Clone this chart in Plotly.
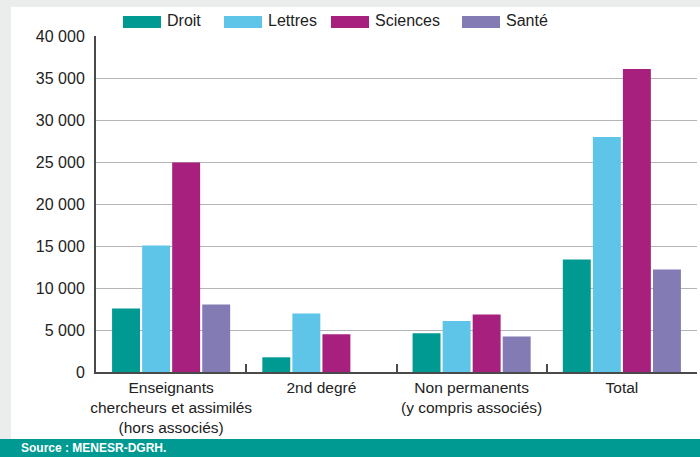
import plotly.graph_objects as go

categories = ["Enseignants<br>chercheurs et assimilés<br>(hors associés)", "2nd degré",
              "Non permanents<br>(y compris associés)", "Total"]
series_names = ["Droit", "Lettres", "Sciences", "Santé"]
droit = [7570, 1750, 4600, 13390]
lettres = [15050, 6970, 6060, 27990]
sciences = [24950, 4480, 6850, 36070]
sante = [8040, 0, 4240, 12200]
colors = ["#009a93", "#5ec4e8", "#a8207e", "#837bb4"]
y_ticks = [0, 5000, 10000, 15000, 20000, 25000, 30000, 35000, 40000]
y_labels = ["0", "5 000", "10 000", "15 000", "20 000", "25 000", "30 000", "35 000", "40 000"]

FONT = "Liberation Sans, Arial, sans-serif"
W, H = 700, 457
ML, MR, MT, MB = 96, 3, 36, 85
PW, PH = W - ML - MR, H - MT - MB

def px_x(x):
    return (x - ML) / PW

def px_y(y):
    return (H - MB - y) / PH

fig = go.Figure()
for name, vals, col in zip(series_names, [droit, lettres, sciences, sante], colors):
    fig.add_trace(go.Bar(x=categories, y=vals, name=name, marker=dict(color=col, line=dict(width=0)),
                         showlegend=False))

shapes = [
    dict(type="rect", xref="paper", yref="paper", x0=px_x(11), x1=px_x(700), y0=px_y(439), y1=px_y(7),
         fillcolor="white", line=dict(width=0), layer="below"),
    dict(type="rect", xref="paper", yref="paper", x0=px_x(0), x1=px_x(700), y0=px_y(457), y1=px_y(439),
         fillcolor="#009a93", line=dict(width=0), layer="below"),
]
annotations = [dict(text="<b>Source : MENESR-DGRH.</b>", xref="paper", yref="paper",
                    x=px_x(19), y=px_y(448), xanchor="left", yanchor="middle", showarrow=False,
                    font=dict(family=FONT, size=12, color="white"))]

# legend drawn as swatches + labels (wide swatches as in the reference)
legend_swatch_x = [123, 224, 331, 462]
for name, col, sx in zip(series_names, colors, legend_swatch_x):
    shapes.append(dict(type="rect", xref="paper", yref="paper", x0=px_x(sx), x1=px_x(sx + 38),
                       y0=px_y(28), y1=px_y(16), fillcolor=col, line=dict(width=0)))
    annotations.append(dict(text=name, xref="paper", yref="paper", x=px_x(sx + 42), y=px_y(21),
                            xanchor="left", yanchor="middle", showarrow=False,
                            font=dict(family=FONT, size=16, color="#222222")))

fig.update_layout(
    width=W, height=H,
    margin=dict(l=ML, r=MR, t=MT, b=MB, autoexpand=False),
    paper_bgcolor="#ebecec", plot_bgcolor="white",
    font=dict(family=FONT, size=16, color="#222222"),
    barmode="group", bargap=0.2, bargroupgap=0.07,
    shapes=shapes, annotations=annotations,
    showlegend=False,
)
fig.update_yaxes(range=[0, 40000], tickvals=y_ticks, ticktext=y_labels, showgrid=True,
                 gridcolor="#b5b5b5", gridwidth=1.3, showline=True, linecolor="#4a4a4a", linewidth=2,
                 ticks="", zeroline=False, ticklabelstandoff=6, fixedrange=True, automargin=False)
fig.update_xaxes(showline=True, linecolor="#4a4a4a", linewidth=2, ticks="inside", tickson="boundaries",
                 ticklen=8, tickwidth=2, tickcolor="#4a4a4a", showgrid=False, fixedrange=True,
                 tickangle=0, automargin=False, tickfont=dict(size=15.5))

fig.write_html("out.html", config={"displayModeBar": False},
               post_script="document.body.style.margin='0';document.body.style.background='#ebecec';")
